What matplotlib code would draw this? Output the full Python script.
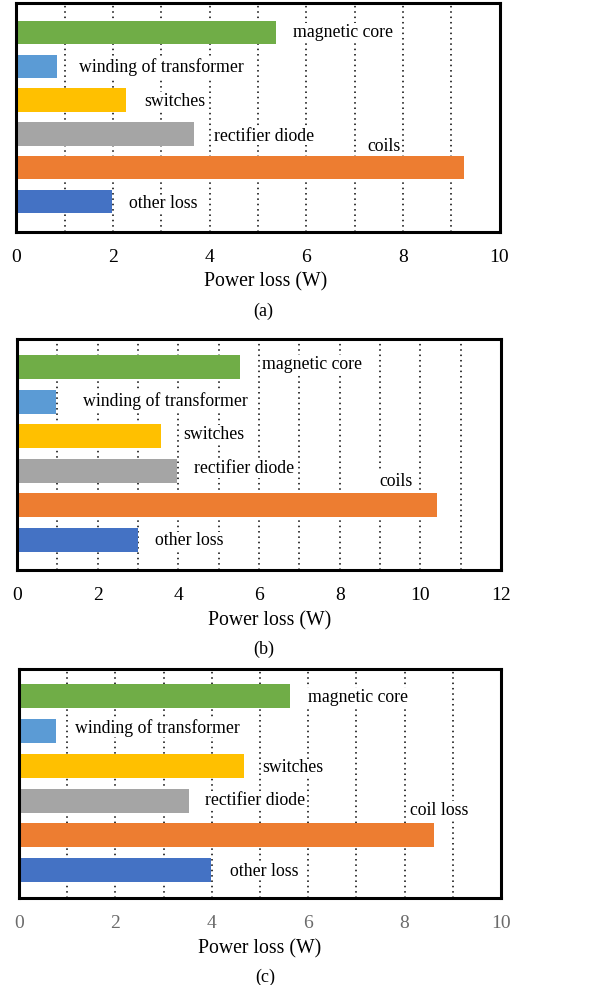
import matplotlib.pyplot as plt

plt.rcParams['font.family'] = ['Liberation Serif', 'DejaVu Serif']

# loss components, top to bottom
parts_a = ['magnetic core', 'winding of transformer', 'switches', 'rectifier diode', 'coils', 'other loss']
parts_b = ['magnetic core', 'winding of transformer', 'switches', 'rectifier diode', 'coils', 'other loss']
parts_c = ['magnetic core', 'winding of transformer', 'switches', 'rectifier diode', 'coil loss', 'other loss']

loss_a = [5.37, 0.84, 2.26, 3.67, 9.26, 1.98]
loss_b = [5.53, 0.97, 3.57, 3.96, 10.42, 3.0]
loss_c = [5.62, 0.77, 4.67, 3.52, 8.6, 3.98]

# where each name sits (x start, y shift in rows)
lab_x_a = [5.72, 1.29, 2.64, 4.09, 7.26, 2.33]
lab_x_b = [6.08, 1.63, 4.12, 4.40, 8.98, 3.42]
lab_x_c = [6.00, 1.16, 5.04, 3.86, 8.11, 4.38]
lab_dy_a = [0, 0.03, 0.03, 0.07, -0.64, 0.07]
lab_dy_b = [-0.08, -0.03, -0.06, -0.06, -0.70, 0.03]
lab_dy_c = [0.03, -0.09, 0.06, 0, -0.72, 0.03]

colors = ['#70AD47', '#5B9BD5', '#FFC000', '#A5A5A5', '#ED7D31', '#4472C4']

fig = plt.figure(figsize=(6.15, 9.85), dpi=100)

panels = [
    # rect, names, values, label x, label dy, xmax, ylim, tick colour, xlabel x, caption
    ([0.0268, 0.7645, 0.7854, 0.2325], parts_a, loss_a, lab_x_a, lab_dy_a, 10, (5.9, -0.87), 'black', 0.515, '(a)'),
    ([0.0276, 0.4213, 0.7870, 0.2345], parts_b, loss_b, lab_x_b, lab_dy_b, 12, (5.87, -0.81), 'black', 0.523, '(b)'),
    ([0.0309, 0.0883, 0.7837, 0.2325], parts_c, loss_c, lab_x_c, lab_dy_c, 10, (5.8, -0.78), '#6b6b6b', 0.5, '(c)'),
]

for rect, names, vals, lx, ldy, xmax, ylim, tcol, xl, cap in panels:
    ax = fig.add_axes(rect)
    rows = list(range(len(names)))
    ax.barh(rows, vals, height=0.69, color=colors, zorder=2)
    for r, name, x, dy in zip(rows, names, lx, ldy):
        ax.text(x, r + dy, name, fontsize=12.8, va='center', ha='left', zorder=3,
                bbox=dict(facecolor='white', edgecolor='none', pad=0.5))
    for g in range(1, xmax):
        ax.axvline(g, color='black', lw=1.1, linestyle=(0, (1, 2.5)), zorder=1)
    ax.set_xlim(0, xmax)
    ax.set_ylim(*ylim)
    ax.set_yticks([])
    ax.set_xticks(range(0, xmax + 1, 2))
    ax.tick_params(axis='x', length=0, pad=12, labelsize=14, labelcolor=tcol)
    for s in ax.spines.values():
        s.set_linewidth(2.2)
    ax.set_xlabel('Power loss (W)', fontsize=14.2)
    ax.xaxis.set_label_coords(xl, -0.178)
    ax.text(0.51, -0.345, cap, transform=ax.transAxes, ha='center', va='center', fontsize=13)

plt.savefig('out.png', dpi=100)
